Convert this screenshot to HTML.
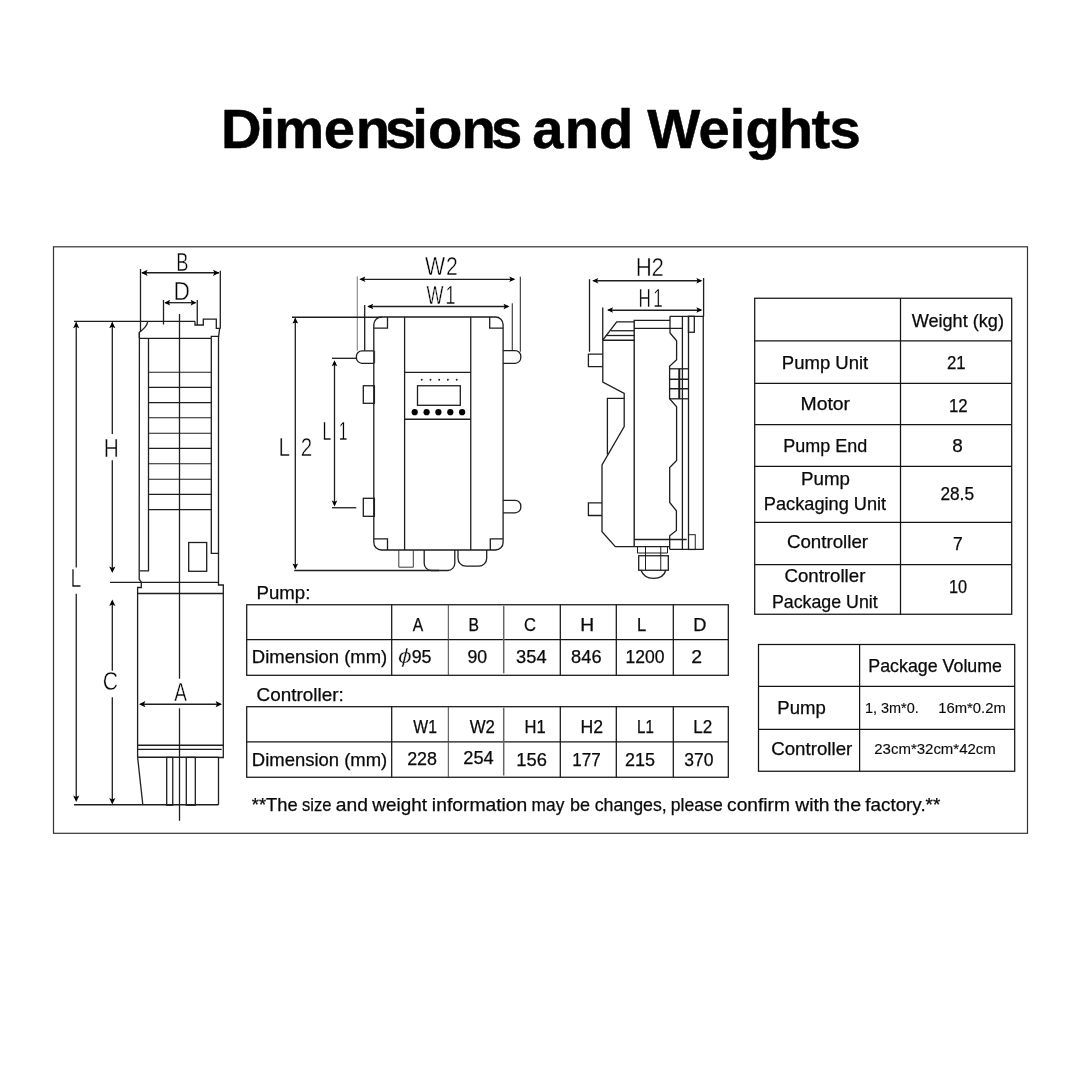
<!DOCTYPE html>
<html lang="en"><head><meta charset="utf-8"><title>Dimensions and Weights</title>
<style>
html,body{margin:0;padding:0;background:#fff}
body{width:1080px;height:1080px;overflow:hidden}
svg{display:block;will-change:transform}
text{font-family:"Liberation Sans",sans-serif}
.h{font-family:"Liberation Sans",sans-serif;font-weight:700}
</style></head><body>
<svg width="1080" height="1080" viewBox="0 0 1080 1080">
<rect x="0" y="0" width="1080" height="1080" fill="#fff"/>
<g>
<g class="h" fill="#000" stroke="#000" stroke-width="0.5" stroke-linejoin="round">
<text class="h" y="148" font-size="56.2" x="220.93 259.45 274.32 323.79 355.74 385.08 412.35 427.88 461.59 490.88">Dimensions</text>
<text class="h" y="148" font-size="56.2" x="532.25 564.69 599.05">and</text>
<text class="h" y="148" font-size="56.2" x="647.32 698.54 729.65 745.45 778.64 811.58 829.58">Weights</text>
</g>
<rect x="53.5" y="246.8" width="974" height="586.5" fill="none" stroke="#333" stroke-width="1.2"/>
<g id="pump">
<line x1="140.5" y1="269" x2="140.5" y2="332" stroke="#1e1e1e" stroke-width="1.3"/>
<line x1="220.3" y1="270.8" x2="220.3" y2="328.5" stroke="#1e1e1e" stroke-width="1.3"/>
<line x1="142" y1="272.75" x2="219" y2="272.75" stroke="#1e1e1e" stroke-width="1.3"/>
<polygon points="141.2,272.8 147.6,269.7 146.2,272.8 147.6,275.9" fill="#000"/>
<polygon points="219.4,272.8 213.0,269.7 214.4,272.8 213.0,275.9" fill="#000"/>
<line x1="163.5" y1="300" x2="163.5" y2="324.5" stroke="#1e1e1e" stroke-width="1.3"/>
<line x1="197.25" y1="300" x2="197.25" y2="325" stroke="#1e1e1e" stroke-width="1.3"/>
<line x1="165" y1="302.7" x2="195.5" y2="302.7" stroke="#1e1e1e" stroke-width="1.3"/>
<polygon points="164.4,302.7 170.0,299.8 169.0,302.7 170.0,305.6" fill="#000"/>
<polygon points="196.3,302.7 190.7,299.8 191.7,302.7 190.7,305.6" fill="#000"/>
<line x1="179.5" y1="314" x2="179.5" y2="678.7" stroke="#1e1e1e" stroke-width="1.3"/>
<line x1="179.5" y1="708.3" x2="179.5" y2="820.8" stroke="#1e1e1e" stroke-width="1.3"/>
<line x1="74" y1="321.3" x2="195" y2="321.3" stroke="#1e1e1e" stroke-width="1.3"/>
<path d="M195,321.3 V325 H203.3 V319.2 H216.3 V328.3 H219.7 L218.6,336.3 H211.3 V338.3" fill="none" stroke="#1e1e1e" stroke-width="1.3" />
<path d="M147.8,321.3 C147,326 144,328.5 139.3,332.5 V338.3" fill="none" stroke="#1e1e1e" stroke-width="1.3" />
<line x1="139.5" y1="338.3" x2="211.3" y2="338.3" stroke="#1e1e1e" stroke-width="1.3"/>
<path d="M139.4,332.5 L139.2,579.2 L141.3,582.2 V587.5 H137.6 V757" fill="none" stroke="#1e1e1e" stroke-width="1.3" />
<path d="M148.5,338.3 V570.8 H140" fill="none" stroke="#1e1e1e" stroke-width="1.3" />
<path d="M211.3,338.3 V553.3 H218.6" fill="none" stroke="#1e1e1e" stroke-width="1.3" />
<path d="M218.5,336.3 V585 H223.3 V757.5 H218.5 V804.7" fill="none" stroke="#1e1e1e" stroke-width="1.3" />
<line x1="148.5" y1="372.25" x2="211.3" y2="372.25" stroke="#1e1e1e" stroke-width="1.2"/>
<line x1="148.5" y1="387.29" x2="211.3" y2="387.29" stroke="#1e1e1e" stroke-width="1.2"/>
<line x1="148.5" y1="402.58" x2="211.3" y2="402.58" stroke="#1e1e1e" stroke-width="1.2"/>
<line x1="148.5" y1="417.75" x2="211.3" y2="417.75" stroke="#1e1e1e" stroke-width="1.2"/>
<line x1="148.5" y1="433.25" x2="211.3" y2="433.25" stroke="#1e1e1e" stroke-width="1.2"/>
<line x1="148.5" y1="448.45" x2="211.3" y2="448.45" stroke="#1e1e1e" stroke-width="1.2"/>
<line x1="148.5" y1="463.74" x2="211.3" y2="463.74" stroke="#1e1e1e" stroke-width="1.2"/>
<line x1="148.5" y1="479.25" x2="211.3" y2="479.25" stroke="#1e1e1e" stroke-width="1.2"/>
<line x1="148.5" y1="494.32" x2="211.3" y2="494.32" stroke="#1e1e1e" stroke-width="1.2"/>
<line x1="148.5" y1="509.61" x2="211.3" y2="509.61" stroke="#1e1e1e" stroke-width="1.2"/>
<rect x="188.7" y="542.5" width="18.0" height="28.8" fill="none" stroke="#1e1e1e" stroke-width="1.3"/>
<line x1="110" y1="582.3" x2="218.5" y2="582.3" stroke="#1e1e1e" stroke-width="1.3"/>
<line x1="137.6" y1="593.5" x2="223.3" y2="593.5" stroke="#1e1e1e" stroke-width="1.3"/>
<line x1="137.6" y1="745.25" x2="223.3" y2="745.25" stroke="#1e1e1e" stroke-width="1.3"/>
<line x1="137.6" y1="749.3" x2="221.7" y2="749.3" stroke="#1e1e1e" stroke-width="1.3"/>
<line x1="137.6" y1="757.25" x2="218.5" y2="757.25" stroke="#1e1e1e" stroke-width="1.3"/>
<path d="M137.6,757.2 L142.8,804.5" fill="none" stroke="#1e1e1e" stroke-width="1.3" />
<line x1="74" y1="804.75" x2="218.5" y2="804.75" stroke="#1e1e1e" stroke-width="1.3"/>
<rect x="166.7" y="757.4" width="6.05" height="47.85" fill="none" stroke="#1e1e1e" stroke-width="1.3"/>
<rect x="186.3" y="757.4" width="9.0" height="47.85" fill="none" stroke="#1e1e1e" stroke-width="1.3"/>
<line x1="76.25" y1="322.5" x2="76.25" y2="567.5" stroke="#1e1e1e" stroke-width="1.3"/>
<line x1="76.25" y1="593.7" x2="76.25" y2="800" stroke="#1e1e1e" stroke-width="1.3"/>
<polygon points="76.2,321.8 73.1,328.2 76.2,326.8 79.3,328.2" fill="#000"/>
<polygon points="76.2,802 73.1,795.6 76.2,797.0 79.3,795.6" fill="#000"/>
<line x1="112.3" y1="322.5" x2="112.3" y2="434" stroke="#1e1e1e" stroke-width="1.3"/>
<line x1="112.3" y1="460.3" x2="112.3" y2="571" stroke="#1e1e1e" stroke-width="1.3"/>
<polygon points="112.3,321.8 109.2,328.2 112.3,326.8 115.4,328.2" fill="#000"/>
<polygon points="112.3,573 109.2,566.6 112.3,568.0 115.4,566.6" fill="#000"/>
<line x1="112.3" y1="601" x2="112.3" y2="670.8" stroke="#1e1e1e" stroke-width="1.3"/>
<line x1="112.3" y1="697.2" x2="112.3" y2="803" stroke="#1e1e1e" stroke-width="1.3"/>
<polygon points="112.3,599.5 109.2,605.9 112.3,604.5 115.4,605.9" fill="#000"/>
<polygon points="112.3,804.5 109.2,798.1 112.3,799.5 115.4,798.1" fill="#000"/>
<line x1="140.5" y1="704.25" x2="220.5" y2="704.25" stroke="#1e1e1e" stroke-width="1.3"/>
<polygon points="139,704.2 145.4,701.1 144.0,704.2 145.4,707.3" fill="#000"/>
<polygon points="222,704.2 215.6,701.1 217.0,704.2 215.6,707.3" fill="#000"/>
</g>
<g id="ctrl">
<line x1="357.25" y1="276.3" x2="357.25" y2="350.8" stroke="#555" stroke-width="0.8"/>
<line x1="520.3" y1="276.7" x2="520.3" y2="351.7" stroke="#1e1e1e" stroke-width="1.0"/>
<line x1="360.5" y1="279.3" x2="514" y2="279.3" stroke="#1e1e1e" stroke-width="1.3"/>
<polygon points="359.3,279.3 365.3,276.5 364.1,279.3 365.3,282.1" fill="#000"/>
<polygon points="515.3,279.3 509.3,276.5 510.5,279.3 509.3,282.1" fill="#000"/>
<line x1="364.7" y1="305" x2="364.7" y2="350.8" stroke="#1e1e1e" stroke-width="1.3"/>
<line x1="512.25" y1="303.3" x2="512.25" y2="350.3" stroke="#1e1e1e" stroke-width="1.0"/>
<line x1="368.5" y1="306.5" x2="508" y2="306.5" stroke="#1e1e1e" stroke-width="1.3"/>
<polygon points="367.2,306.5 373.2,303.7 372.0,306.5 373.2,309.3" fill="#000"/>
<polygon points="509.5,306.5 503.5,303.7 504.7,306.5 503.5,309.3" fill="#000"/>
<line x1="292" y1="317.25" x2="382" y2="317.25" stroke="#1e1e1e" stroke-width="1.3"/>
<path d="M381.7,317 H495.5 A7.6,7.6 0 0 1 503.1,324.6 V542.4 A7.6,7.6 0 0 1 495.5,550 H381.4 A7.6,7.6 0 0 1 373.8,542.4 V324.6 A7.9,7.6 0 0 1 381.7,317 Z" fill="none" stroke="#1e1e1e" stroke-width="1.3" />
<path d="M387.5,317 V328.2 H373.8" fill="none" stroke="#1e1e1e" stroke-width="1.3" />
<path d="M489.7,317 V328.2 H503.1" fill="none" stroke="#1e1e1e" stroke-width="1.3" />
<path d="M387.5,550 V538.8 H373.8" fill="none" stroke="#1e1e1e" stroke-width="1.3" />
<path d="M490.3,550 V538.8 H503.1" fill="none" stroke="#1e1e1e" stroke-width="1.3" />
<line x1="404.6" y1="317" x2="404.6" y2="550" stroke="#1e1e1e" stroke-width="1.3"/>
<line x1="470.75" y1="317" x2="470.75" y2="550" stroke="#1e1e1e" stroke-width="1.3"/>
<line x1="404.6" y1="372.3" x2="470.8" y2="372.3" stroke="#1e1e1e" stroke-width="1.3"/>
<line x1="404.6" y1="419.25" x2="470.8" y2="419.25" stroke="#1e1e1e" stroke-width="1.3"/>
<rect x="417.5" y="385.75" width="42.8" height="19.55" fill="none" stroke="#1e1e1e" stroke-width="1.3"/>
<circle cx="421.7" cy="379.7" r="0.95" fill="#1e1e1e"/>
<circle cx="430.5" cy="379.7" r="0.95" fill="#1e1e1e"/>
<circle cx="439.2" cy="379.7" r="0.95" fill="#1e1e1e"/>
<circle cx="447.9" cy="379.7" r="0.95" fill="#1e1e1e"/>
<circle cx="456.7" cy="379.7" r="0.95" fill="#1e1e1e"/>
<circle cx="414.7" cy="412.2" r="3.1" fill="#000"/>
<circle cx="426.6" cy="412.2" r="3.1" fill="#000"/>
<circle cx="438.4" cy="412.2" r="3.1" fill="#000"/>
<circle cx="450.3" cy="412.2" r="3.1" fill="#000"/>
<circle cx="462.1" cy="412.2" r="3.1" fill="#000"/>
<path d="M373.8,350.8 H362 A5.6,5.6 0 0 0 356.4,356.4 V357.7 A5.6,5.6 0 0 0 362,363.3 H373.8" fill="none" stroke="#1e1e1e" stroke-width="1.3" />
<path d="M503.1,350.6 H515.2 A5.6,5.6 0 0 1 520.8,356.2 V357.7 A5.6,5.6 0 0 1 515.2,363.3 H503.1" fill="none" stroke="#1e1e1e" stroke-width="1.3" />
<path d="M503.1,500.3 H515.2 A5.6,5.6 0 0 1 520.8,505.9 V507.2 A5.6,5.6 0 0 1 515.2,512.8 H503.1" fill="none" stroke="#1e1e1e" stroke-width="1.3" />
<line x1="374.6" y1="350.8" x2="374.6" y2="363.3" stroke="#1e1e1e" stroke-width="0.9"/>
<rect x="363.3" y="385.75" width="11.1" height="17.55" fill="none" stroke="#1e1e1e" stroke-width="1.3"/>
<rect x="363.3" y="498.3" width="11.1" height="18.0" fill="none" stroke="#1e1e1e" stroke-width="1.3"/>
<path d="M398.8,550 V567.2 H413.3 V550" fill="none" stroke="#3a3a3a" stroke-width="1.0" />
<path d="M424.2,550 V563.3 A7.2,7.2 0 0 0 431.4,570.5 H447.6 A7.2,7.2 0 0 0 454.8,563.3 V550" fill="none" stroke="#1e1e1e" stroke-width="1.3" />
<path d="M458,550 V558.2 A8,8 0 0 0 466,566.2 H478.7 A8,8 0 0 0 486.7,558.2 V550" fill="none" stroke="#1e1e1e" stroke-width="1.3" />
<line x1="295.3" y1="318.5" x2="295.3" y2="567.5" stroke="#1e1e1e" stroke-width="1.3"/>
<polygon points="295.3,317.6 292.5,323.6 295.3,322.4 298.1,323.6" fill="#000"/>
<polygon points="295.3,569.5 292.5,563.5 295.3,564.7 298.1,563.5" fill="#000"/>
<line x1="294.2" y1="570.5" x2="439" y2="570.5" stroke="#1e1e1e" stroke-width="1.3"/>
<line x1="332" y1="358.3" x2="356.4" y2="358.3" stroke="#1e1e1e" stroke-width="1.3"/>
<line x1="332" y1="507.75" x2="356.3" y2="507.75" stroke="#1e1e1e" stroke-width="1.3"/>
<line x1="334.5" y1="362" x2="334.5" y2="505" stroke="#1e1e1e" stroke-width="1.3"/>
<polygon points="334.5,360.3 331.7,366.3 334.5,365.1 337.3,366.3" fill="#000"/>
<polygon points="334.5,506.6 331.7,500.6 334.5,501.8 337.3,500.6" fill="#000"/>
</g>
<g id="side">
<line x1="589.5" y1="279.2" x2="589.5" y2="351.7" stroke="#1e1e1e" stroke-width="1.3"/>
<line x1="703.6" y1="278" x2="703.6" y2="316.5" stroke="#1e1e1e" stroke-width="1.3"/>
<line x1="593.5" y1="280.75" x2="701" y2="280.75" stroke="#1e1e1e" stroke-width="1.3"/>
<polygon points="592.2,280.8 598.2,278.0 597.0,280.8 598.2,283.6" fill="#000"/>
<polygon points="702.4,280.8 696.4,278.0 697.6,280.8 696.4,283.6" fill="#000"/>
<line x1="602.75" y1="307.5" x2="602.75" y2="340" stroke="#1e1e1e" stroke-width="1.3"/>
<line x1="608.2" y1="310.25" x2="701" y2="310.25" stroke="#1e1e1e" stroke-width="1.3"/>
<polygon points="607,310 613.0,307.2 611.8,310 613.0,312.8" fill="#000"/>
<polygon points="702.4,310 696.4,307.2 697.6,310 696.4,312.8" fill="#000"/>
<line x1="670" y1="316.3" x2="703.8" y2="316.3" stroke="#1e1e1e" stroke-width="1.3"/>
<line x1="703.25" y1="316.3" x2="703.25" y2="549.3" stroke="#1e1e1e" stroke-width="1.3"/>
<line x1="682.4" y1="316.3" x2="682.4" y2="549.3" stroke="#1e1e1e" stroke-width="1.3"/>
<line x1="688.5" y1="316.3" x2="688.5" y2="549.3" stroke="#1e1e1e" stroke-width="1.3"/>
<path d="M670,316.3 V328.3" fill="none" stroke="#1e1e1e" stroke-width="1.3" />
<line x1="634.2" y1="328.3" x2="682.4" y2="328.3" stroke="#1e1e1e" stroke-width="1.3"/>
<rect x="688.5" y="316.3" width="5.8" height="15.95" fill="none" stroke="#1e1e1e" stroke-width="1.3"/>
<path d="M634.2,546.7 V320.4 H670" fill="none" stroke="#1e1e1e" stroke-width="1.4" />
<path d="M634.2,321.8 H616.7 L602.8,340 V382.2 L624.2,393.3 V426.7 L602,465 V531.7 L615.3,546.7 H669.7" fill="none" stroke="#1e1e1e" stroke-width="1.3" />
<line x1="610.8" y1="330.75" x2="634.2" y2="330.75" stroke="#1e1e1e" stroke-width="1.3"/>
<line x1="605.8" y1="335.5" x2="634.2" y2="335.5" stroke="#1e1e1e" stroke-width="1.3"/>
<line x1="602.8" y1="340.25" x2="634.2" y2="340.25" stroke="#1e1e1e" stroke-width="1.3"/>
<path d="M624.2,398.4 H607.4 V454.4" fill="none" stroke="#1e1e1e" stroke-width="1.3" />
<path d="M602.8,354.2 H588.4 V366.7 H602.8" fill="none" stroke="#1e1e1e" stroke-width="1.3" />
<path d="M602,502.8 H588.4 V515.5 H602" fill="none" stroke="#1e1e1e" stroke-width="1.3" />
<path d="M670,328.3 V333 L676.6,340.8 V359.7 L669.6,366.2 V398.8 L676.6,406.7 V460.5 L669.7,467.5 V502.5 L676.4,510.8 V530.5 L669.7,535.8 V549.3" fill="none" stroke="#1e1e1e" stroke-width="1.3" />
<path d="M669.6,368.8 H688.4" fill="none" stroke="#1e1e1e" stroke-width="1.3" />
<path d="M669.6,398.8 H688.4" fill="none" stroke="#1e1e1e" stroke-width="1.3" />
<line x1="669.6" y1="379.25" x2="688.4" y2="379.25" stroke="#1e1e1e" stroke-width="1.5"/>
<line x1="669.6" y1="388.75" x2="688.4" y2="388.75" stroke="#1e1e1e" stroke-width="1.5"/>
<line x1="679.25" y1="368.8" x2="679.25" y2="398.8" stroke="#1e1e1e" stroke-width="2"/>
<line x1="634.2" y1="539.5" x2="686.7" y2="539.5" stroke="#1e1e1e" stroke-width="1.3"/>
<line x1="669.7" y1="549.3" x2="703.8" y2="549.3" stroke="#1e1e1e" stroke-width="1.3"/>
<rect x="688.5" y="534.7" width="6.75" height="14.9" fill="none" stroke="#1e1e1e" stroke-width="1.0"/>
<path d="M637.5,546.7 V553 H667.5 V546.7" fill="none" stroke="#1e1e1e" stroke-width="1.0" />
<rect x="638.7" y="555.75" width="29.6" height="14.5" fill="none" stroke="#1e1e1e" stroke-width="1.3"/>
<line x1="645.5" y1="546.7" x2="645.5" y2="570" stroke="#1e1e1e" stroke-width="1.0"/>
<line x1="660.75" y1="546.7" x2="660.75" y2="570" stroke="#1e1e1e" stroke-width="1.0"/>
<path d="M640.8,570 C643,575.5 647.5,578.4 653.3,578.4 C659.5,578.4 664.5,575.5 665.8,570" fill="none" stroke="#1e1e1e" stroke-width="1.3" />
</g>
<g id="wt">
<rect x="754.7" y="298.25" width="257.0" height="316.0" fill="none" stroke="#141414" stroke-width="1.25"/>
<line x1="900.5" y1="298" x2="900.5" y2="614.2" stroke="#141414" stroke-width="1.25"/>
<line x1="754.7" y1="340.75" x2="1011.7" y2="340.75" stroke="#141414" stroke-width="1.25"/>
<line x1="754.7" y1="383.25" x2="1011.7" y2="383.25" stroke="#141414" stroke-width="1.25"/>
<line x1="754.7" y1="424.7" x2="1011.7" y2="424.7" stroke="#141414" stroke-width="1.25"/>
<line x1="754.7" y1="466.3" x2="1011.7" y2="466.3" stroke="#141414" stroke-width="1.25"/>
<line x1="754.7" y1="522.25" x2="1011.7" y2="522.25" stroke="#141414" stroke-width="1.25"/>
<line x1="754.7" y1="564.7" x2="1011.7" y2="564.7" stroke="#141414" stroke-width="1.25"/>
</g>
<text class="t" x="911.7" y="326.7" font-size="17.9" textLength="92.24" lengthAdjust="spacingAndGlyphs" stroke="#0a0a0a" stroke-width="0.25" fill="#0a0a0a">Weight (kg)</text>
<text class="t" x="781.85" y="368.7" font-size="17.9" textLength="86.38" lengthAdjust="spacingAndGlyphs" stroke="#0a0a0a" stroke-width="0.25" fill="#0a0a0a">Pump Unit</text>
<text class="t" x="947.01" y="369.2" font-size="17.9" textLength="18.67" lengthAdjust="spacingAndGlyphs" stroke="#0a0a0a" stroke-width="0.25" fill="#0a0a0a">21</text>
<text class="t" x="800.48" y="409.7" font-size="17.9" textLength="49.61" lengthAdjust="spacingAndGlyphs" stroke="#0a0a0a" stroke-width="0.25" fill="#0a0a0a">Motor</text>
<text class="t" x="948.95" y="412.2" font-size="17.9" textLength="18.74" lengthAdjust="spacingAndGlyphs" stroke="#0a0a0a" stroke-width="0.25" fill="#0a0a0a">12</text>
<text class="t" x="783.3" y="452.2" font-size="17.9" textLength="83.91" lengthAdjust="spacingAndGlyphs" stroke="#0a0a0a" stroke-width="0.25" fill="#0a0a0a">Pump End</text>
<text class="t" x="952.21" y="452.2" font-size="17.9" textLength="10.56" lengthAdjust="spacingAndGlyphs" stroke="#0a0a0a" stroke-width="0.25" fill="#0a0a0a">8</text>
<text class="t" x="801.04" y="484.7" font-size="17.9" textLength="48.92" lengthAdjust="spacingAndGlyphs" stroke="#0a0a0a" stroke-width="0.25" fill="#0a0a0a">Pump</text>
<text class="t" x="763.88" y="510.3" font-size="17.9" textLength="122.26" lengthAdjust="spacingAndGlyphs" stroke="#0a0a0a" stroke-width="0.25" fill="#0a0a0a">Packaging Unit</text>
<text class="t" x="940.39" y="500" font-size="17.9" textLength="33.61" lengthAdjust="spacingAndGlyphs" stroke="#0a0a0a" stroke-width="0.25" fill="#0a0a0a">28.5</text>
<text class="t" x="786.92" y="548" font-size="17.9" textLength="81.17" lengthAdjust="spacingAndGlyphs" stroke="#0a0a0a" stroke-width="0.25" fill="#0a0a0a">Controller</text>
<text class="t" x="952.98" y="549.5" font-size="17.9" textLength="9.73" lengthAdjust="spacingAndGlyphs" stroke="#0a0a0a" stroke-width="0.25" fill="#0a0a0a">7</text>
<text class="t" x="784.42" y="581.7" font-size="17.9" textLength="80.97" lengthAdjust="spacingAndGlyphs" stroke="#0a0a0a" stroke-width="0.25" fill="#0a0a0a">Controller</text>
<text class="t" x="771.91" y="607.5" font-size="17.9" textLength="105.83" lengthAdjust="spacingAndGlyphs" stroke="#0a0a0a" stroke-width="0.25" fill="#0a0a0a">Package Unit</text>
<text class="t" x="948.98" y="593.3" font-size="17.9" textLength="18.12" lengthAdjust="spacingAndGlyphs" stroke="#0a0a0a" stroke-width="0.25" fill="#0a0a0a">10</text>
<g id="vt">
<rect x="758.5" y="644.5" width="256.2" height="126.75" fill="none" stroke="#141414" stroke-width="1.25"/>
<line x1="859.6" y1="644.5" x2="859.6" y2="771" stroke="#141414" stroke-width="1.25"/>
<line x1="758.5" y1="686.3" x2="1014.7" y2="686.3" stroke="#141414" stroke-width="1.25"/>
<line x1="758.5" y1="729.25" x2="1014.7" y2="729.25" stroke="#141414" stroke-width="1.25"/>
</g>
<text class="t" x="868.31" y="672.2" font-size="17.9" textLength="133.71" lengthAdjust="spacingAndGlyphs" stroke="#0a0a0a" stroke-width="0.25" fill="#0a0a0a">Package Volume</text>
<text class="t" x="777.35" y="714" font-size="17.9" textLength="48.5" lengthAdjust="spacingAndGlyphs" stroke="#0a0a0a" stroke-width="0.25" fill="#0a0a0a">Pump</text>
<text class="t" x="771.22" y="754.6" font-size="17.9" textLength="81.07" lengthAdjust="spacingAndGlyphs" stroke="#0a0a0a" stroke-width="0.25" fill="#0a0a0a">Controller</text>
<text class="t" x="864.9" y="713.3" font-size="14.2" textLength="53.91" lengthAdjust="spacingAndGlyphs" stroke="#0a0a0a" stroke-width="0.12" fill="#0a0a0a">1, 3m*0.</text>
<text class="t" x="938.27" y="713.3" font-size="14.2" textLength="67.49" lengthAdjust="spacingAndGlyphs" stroke="#0a0a0a" stroke-width="0.12" fill="#0a0a0a">16m*0.2m</text>
<text class="t" x="874.3" y="754.2" font-size="14.2" textLength="121.48" lengthAdjust="spacingAndGlyphs" stroke="#0a0a0a" stroke-width="0.12" fill="#0a0a0a">23cm*32cm*42cm</text>
<text class="t" x="256.54" y="599.2" font-size="17.9" textLength="53.84" lengthAdjust="spacingAndGlyphs" stroke="#0a0a0a" stroke-width="0.25" fill="#0a0a0a">Pump:</text>
<g id="pt">
<rect x="246.7" y="604.75" width="481.6" height="70.55" fill="none" stroke="#141414" stroke-width="1.25"/>
<line x1="246.7" y1="639.6" x2="728.3" y2="639.6" stroke="#141414" stroke-width="1.25"/>
<line x1="391.7" y1="604.8" x2="391.7" y2="675.3" stroke="#141414" stroke-width="1.25"/>
<line x1="448.3" y1="604.8" x2="448.3" y2="675.3" stroke="#444" stroke-width="1.0"/>
<line x1="503.7" y1="605.8" x2="503.7" y2="673.3" stroke="#666" stroke-width="1.5"/>
<line x1="560.3" y1="604.8" x2="560.3" y2="675.3" stroke="#141414" stroke-width="1.25"/>
<line x1="616.3" y1="604.8" x2="616.3" y2="675.3" stroke="#141414" stroke-width="1.25"/>
<line x1="673.3" y1="604.8" x2="673.3" y2="675.3" stroke="#141414" stroke-width="1.25"/>
</g>
<text class="t" x="251.86" y="663.3" font-size="17.9" textLength="135.4" lengthAdjust="spacingAndGlyphs" stroke="#0a0a0a" stroke-width="0.25" fill="#0a0a0a">Dimension (mm)</text>
<text class="t" x="412.8" y="630.8" font-size="17.9" textLength="10.42" lengthAdjust="spacingAndGlyphs" stroke="#0a0a0a" stroke-width="0.25" fill="#0a0a0a">A</text>
<text class="t" x="468.47" y="630.8" font-size="17.9" textLength="10.49" lengthAdjust="spacingAndGlyphs" stroke="#0a0a0a" stroke-width="0.25" fill="#0a0a0a">B</text>
<text class="t" x="523.92" y="630.8" font-size="17.9" textLength="11.95" lengthAdjust="spacingAndGlyphs" stroke="#0a0a0a" stroke-width="0.25" fill="#0a0a0a">C</text>
<text class="t" x="580.2" y="630.8" font-size="17.9" textLength="13.87" lengthAdjust="spacingAndGlyphs" stroke="#0a0a0a" stroke-width="0.25" fill="#0a0a0a">H</text>
<text class="t" x="637.01" y="630.8" font-size="17.9" textLength="9.21" lengthAdjust="spacingAndGlyphs" stroke="#0a0a0a" stroke-width="0.25" fill="#0a0a0a">L</text>
<text class="t" x="693.28" y="630.8" font-size="17.9" textLength="13.15" lengthAdjust="spacingAndGlyphs" stroke="#0a0a0a" stroke-width="0.25" fill="#0a0a0a">D</text>
<text class="t" x="411.66" y="663" font-size="17.9" textLength="19.86" lengthAdjust="spacingAndGlyphs" stroke="#0a0a0a" stroke-width="0.25" fill="#0a0a0a">95</text>
<text class="t" x="467.47" y="663" font-size="17.9" textLength="19.67" lengthAdjust="spacingAndGlyphs" stroke="#0a0a0a" stroke-width="0.25" fill="#0a0a0a">90</text>
<text class="t" x="516.13" y="663" font-size="17.9" textLength="30.53" lengthAdjust="spacingAndGlyphs" stroke="#0a0a0a" stroke-width="0.25" fill="#0a0a0a">354</text>
<text class="t" x="571.13" y="663" font-size="17.9" textLength="30.41" lengthAdjust="spacingAndGlyphs" stroke="#0a0a0a" stroke-width="0.25" fill="#0a0a0a">846</text>
<text class="t" x="625.6" y="663" font-size="17.9" textLength="39.03" lengthAdjust="spacingAndGlyphs" stroke="#0a0a0a" stroke-width="0.25" fill="#0a0a0a">1200</text>
<text class="t" x="691.29" y="663" font-size="17.9" textLength="10.8" lengthAdjust="spacingAndGlyphs" stroke="#0a0a0a" stroke-width="0.25" fill="#0a0a0a">2</text>
<text transform="translate(397.9,663) scale(1.24,1)" x="0" y="0" font-size="20" font-style="italic" fill="#111" stroke="#fff" stroke-width="0.3">&#981;</text>
<text class="t" x="256.61" y="700.8" font-size="17.9" textLength="87.09" lengthAdjust="spacingAndGlyphs" stroke="#0a0a0a" stroke-width="0.25" fill="#0a0a0a">Controller:</text>
<g id="ct">
<rect x="246.7" y="706.7" width="481.6" height="70.55" fill="none" stroke="#141414" stroke-width="1.25"/>
<line x1="246.7" y1="741.75" x2="728.3" y2="741.75" stroke="#141414" stroke-width="1.25"/>
<line x1="391.7" y1="706.7" x2="391.7" y2="777.1" stroke="#141414" stroke-width="1.25"/>
<line x1="448.3" y1="706.7" x2="448.3" y2="777.1" stroke="#444" stroke-width="1.0"/>
<line x1="503.7" y1="707.7" x2="503.7" y2="775.5" stroke="#666" stroke-width="1.5"/>
<line x1="560.3" y1="706.7" x2="560.3" y2="777.1" stroke="#141414" stroke-width="1.25"/>
<line x1="616.3" y1="706.7" x2="616.3" y2="777.1" stroke="#141414" stroke-width="1.25"/>
<line x1="673.3" y1="706.7" x2="673.3" y2="777.1" stroke="#141414" stroke-width="1.25"/>
</g>
<text class="t" x="251.86" y="765.5" font-size="17.9" textLength="135.4" lengthAdjust="spacingAndGlyphs" stroke="#0a0a0a" stroke-width="0.25" fill="#0a0a0a">Dimension (mm)</text>
<text class="t" x="413.3" y="732.8" font-size="17.9" textLength="23.64" lengthAdjust="spacingAndGlyphs" stroke="#0a0a0a" stroke-width="0.25" fill="#0a0a0a">W1</text>
<text class="t" x="469.7" y="732.8" font-size="17.9" textLength="25.18" lengthAdjust="spacingAndGlyphs" stroke="#0a0a0a" stroke-width="0.25" fill="#0a0a0a">W2</text>
<text class="t" x="524.51" y="732.8" font-size="17.9" textLength="21.16" lengthAdjust="spacingAndGlyphs" stroke="#0a0a0a" stroke-width="0.25" fill="#0a0a0a">H1</text>
<text class="t" x="580.62" y="732.8" font-size="17.9" textLength="22.6" lengthAdjust="spacingAndGlyphs" stroke="#0a0a0a" stroke-width="0.25" fill="#0a0a0a">H2</text>
<text class="t" x="637.12" y="732.8" font-size="17.9" textLength="16.79" lengthAdjust="spacingAndGlyphs" stroke="#0a0a0a" stroke-width="0.25" fill="#0a0a0a">L1</text>
<text class="t" x="693.36" y="732.8" font-size="17.9" textLength="19.03" lengthAdjust="spacingAndGlyphs" stroke="#0a0a0a" stroke-width="0.25" fill="#0a0a0a">L2</text>
<text class="t" x="407.16" y="764.7" font-size="17.9" textLength="29.86" lengthAdjust="spacingAndGlyphs" stroke="#0a0a0a" stroke-width="0.25" fill="#0a0a0a">228</text>
<text class="t" x="463.35" y="763.8" font-size="17.9" textLength="30.41" lengthAdjust="spacingAndGlyphs" stroke="#0a0a0a" stroke-width="0.25" fill="#0a0a0a">254</text>
<text class="t" x="516.35" y="765.5" font-size="17.9" textLength="30.59" lengthAdjust="spacingAndGlyphs" stroke="#0a0a0a" stroke-width="0.25" fill="#0a0a0a">156</text>
<text class="t" x="572.23" y="765.5" font-size="17.9" textLength="28.46" lengthAdjust="spacingAndGlyphs" stroke="#0a0a0a" stroke-width="0.25" fill="#0a0a0a">177</text>
<text class="t" x="624.96" y="765.5" font-size="17.9" textLength="29.97" lengthAdjust="spacingAndGlyphs" stroke="#0a0a0a" stroke-width="0.25" fill="#0a0a0a">215</text>
<text class="t" x="684.15" y="765.5" font-size="17.9" textLength="29.29" lengthAdjust="spacingAndGlyphs" stroke="#0a0a0a" stroke-width="0.25" fill="#0a0a0a">370</text>
<text y="810.6" font-size="17.9" fill="#0a0a0a" stroke="#0a0a0a" stroke-width="0.25"><tspan x="251.81" textLength="45.83" lengthAdjust="spacingAndGlyphs">**The</tspan> <tspan x="302.04" textLength="29.43" lengthAdjust="spacingAndGlyphs">size</tspan> <tspan x="335.8" textLength="32.19" lengthAdjust="spacingAndGlyphs">and</tspan> <tspan x="372.39" textLength="54.54" lengthAdjust="spacingAndGlyphs">weight</tspan> <tspan x="431.89" textLength="95.39" lengthAdjust="spacingAndGlyphs">information</tspan> <tspan x="531.62" textLength="32.68" lengthAdjust="spacingAndGlyphs">may</tspan> <tspan x="570.07" textLength="20.06" lengthAdjust="spacingAndGlyphs">be</tspan> <tspan x="594.64" textLength="72.18" lengthAdjust="spacingAndGlyphs">changes,</tspan> <tspan x="670.8" textLength="51.92" lengthAdjust="spacingAndGlyphs">please</tspan> <tspan x="727.1" textLength="62.89" lengthAdjust="spacingAndGlyphs">confirm</tspan> <tspan x="795.3" textLength="34.28" lengthAdjust="spacingAndGlyphs">with</tspan> <tspan x="833.8" textLength="27.3" lengthAdjust="spacingAndGlyphs">the</tspan> <tspan x="865.3" textLength="74.97" lengthAdjust="spacingAndGlyphs">factory.**</tspan></text>
<text transform="scale(0.7087,1)" x="248.85" y="270.6" font-size="25.8" fill="#000" stroke="#fff" stroke-width="0.45">B</text>
<text transform="scale(0.8841,1)" x="196.26" y="300.0" font-size="25.8" fill="#000" stroke="#fff" stroke-width="0.45">D</text>
<text transform="scale(0.8062,1)" x="128.6" y="456.6" font-size="25.8" fill="#000" stroke="#fff" stroke-width="0.45">H</text>
<text transform="scale(0.7527,1)" x="93.63" y="587.0" font-size="25.8" fill="#000" stroke="#fff" stroke-width="0.45">L</text>
<text transform="scale(0.8168,1)" x="125.75" y="690.1" font-size="25.8" fill="#000" stroke="#fff" stroke-width="0.45">C</text>
<text transform="scale(0.7384,1)" x="235.91" y="701.1" font-size="25.8" fill="#000" stroke="#fff" stroke-width="0.45">A</text>
<text transform="scale(0.826,1)" x="514.54 539.86" y="275.1" font-size="25.8" fill="#000" stroke="#fff" stroke-width="0.45">W2</text>
<text transform="scale(0.6973,1)" x="611.73 639.01" y="304.0" font-size="25.8" fill="#000" stroke="#fff" stroke-width="0.45">W1</text>
<text transform="scale(0.6159,1)" x="523.58 549.96" y="439.6" font-size="25.8" fill="#000" stroke="#fff" stroke-width="0.45">L1</text>
<text transform="scale(0.7988,1)" x="348.53 376.67" y="456.4" font-size="25.8" fill="#000" stroke="#fff" stroke-width="0.45">L2</text>
<text transform="scale(0.8645,1)" x="735.41 753.62" y="276.1" font-size="25.8" fill="#000" stroke="#fff" stroke-width="0.45">H2</text>
<text transform="scale(0.664,1)" x="961.67 983.67" y="307.5" font-size="25.8" fill="#000" stroke="#fff" stroke-width="0.45">H1</text>
</g>
</svg>
</body></html>
